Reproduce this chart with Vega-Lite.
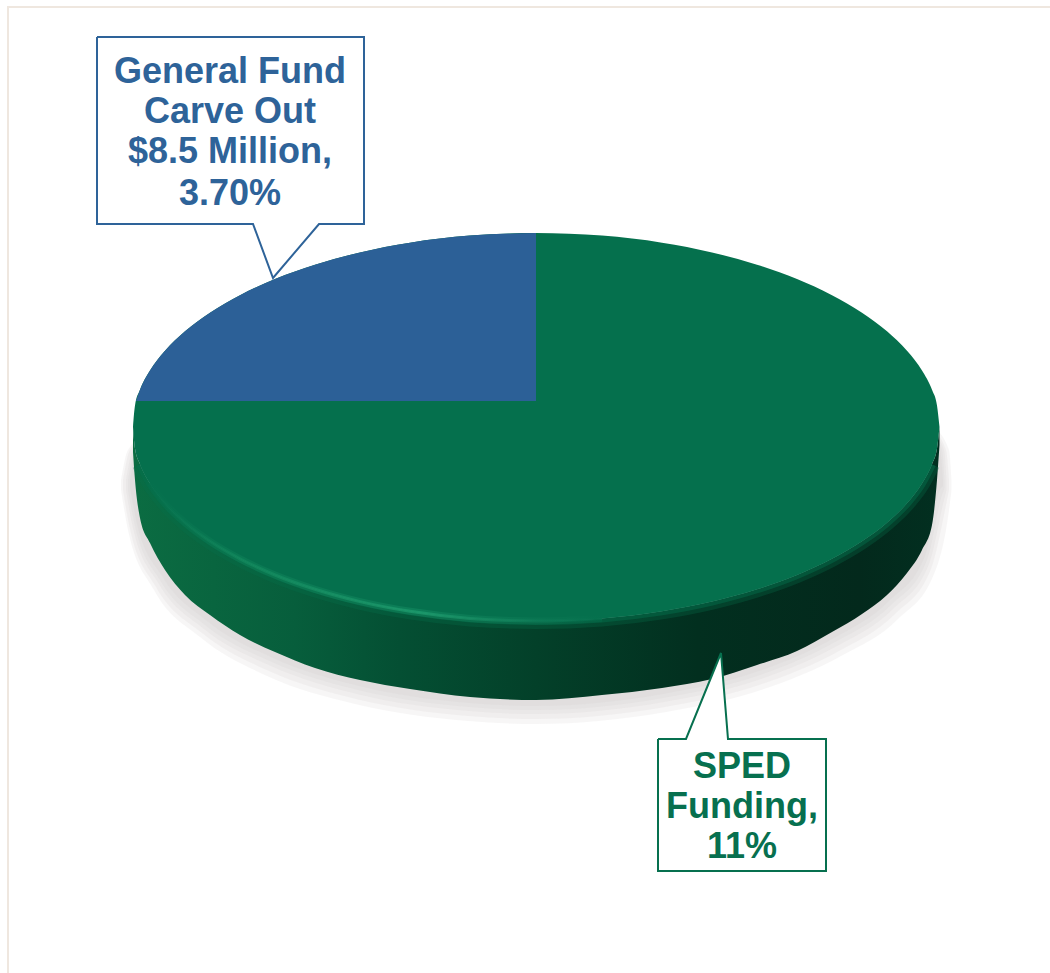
{
"$schema":"https://vega.github.io/schema/vega-lite/v6.json",
"width":1050,"height":973,"padding":0,
"autosize":{"type":"none"},
"background":"#ffffff",
"config":{"view":{"stroke":null}},
"datasets":{
"frame":[{"x":8,"y":973,"o":1},{"x":8,"y":7,"o":2},{"x":1050,"y":7,"o":3}],
"shadow":[
{"s":"A","x":121,"y":480,"y2":490},{"s":"A","x":128,"y":450,"y2":530},{"s":"A","x":154,"y":430,"y2":590},{"s":"A","x":200,"y":430,"y2":637},{"s":"A","x":267,"y":430,"y2":676},{"s":"A","x":355,"y":430,"y2":704},{"s":"A","x":468,"y":430,"y2":721},{"s":"A","x":536,"y":430,"y2":724},{"s":"A","x":666,"y":430,"y2":712},{"s":"A","x":764,"y":430,"y2":689},{"s":"A","x":841,"y":430,"y2":656},{"s":"A","x":898,"y":430,"y2":619},{"s":"A","x":934,"y":430,"y2":574},{"s":"A","x":949,"y":450,"y2":510},{"s":"A","x":951.5,"y":480,"y2":490},
{"s":"D","x":123,"y":480,"y2":490},{"s":"D","x":130,"y":450,"y2":529},{"s":"D","x":156,"y":430,"y2":587},{"s":"D","x":202,"y":430,"y2":633},{"s":"D","x":269,"y":430,"y2":671},{"s":"D","x":356,"y":430,"y2":699},{"s":"D","x":468,"y":430,"y2":716},{"s":"D","x":536,"y":430,"y2":719},{"s":"D","x":665,"y":430,"y2":707},{"s":"D","x":762,"y":430,"y2":684},{"s":"D","x":839,"y":430,"y2":651},{"s":"D","x":895,"y":430,"y2":614},{"s":"D","x":931,"y":430,"y2":569},{"s":"D","x":946,"y":450,"y2":505},{"s":"D","x":949,"y":480,"y2":490},
{"s":"B","x":126,"y":480,"y2":490},{"s":"B","x":133,"y":450,"y2":528},{"s":"B","x":159,"y":430,"y2":584},{"s":"B","x":204,"y":430,"y2":629},{"s":"B","x":271,"y":430,"y2":666},{"s":"B","x":357,"y":430,"y2":694},{"s":"B","x":469,"y":430,"y2":711},{"s":"B","x":536,"y":430,"y2":714},{"s":"B","x":664,"y":430,"y2":702},{"s":"B","x":761,"y":430,"y2":679},{"s":"B","x":837,"y":430,"y2":646},{"s":"B","x":893,"y":430,"y2":609},{"s":"B","x":929,"y":430,"y2":564},{"s":"B","x":944,"y":450,"y2":500},{"s":"B","x":946.5,"y":480,"y2":490},
{"s":"E","x":128,"y":480,"y2":490},{"s":"E","x":135,"y":450,"y2":526},{"s":"E","x":160,"y":430,"y2":580},{"s":"E","x":205,"y":430,"y2":625},{"s":"E","x":272,"y":430,"y2":662},{"s":"E","x":358,"y":430,"y2":690},{"s":"E","x":469,"y":430,"y2":707},{"s":"E","x":536,"y":430,"y2":710},{"s":"E","x":663,"y":430,"y2":698},{"s":"E","x":760,"y":430,"y2":675},{"s":"E","x":835,"y":430,"y2":642},{"s":"E","x":891,"y":430,"y2":605},{"s":"E","x":927,"y":430,"y2":560},{"s":"E","x":942,"y":450,"y2":495},{"s":"E","x":944.5,"y":480,"y2":488},
{"s":"C","x":130,"y":480,"y2":488},{"s":"C","x":137,"y":450,"y2":524},{"s":"C","x":162,"y":430,"y2":576},{"s":"C","x":207,"y":430,"y2":621},{"s":"C","x":273,"y":430,"y2":658},{"s":"C","x":359,"y":430,"y2":686},{"s":"C","x":469,"y":430,"y2":703},{"s":"C","x":536,"y":430,"y2":706},{"s":"C","x":663,"y":430,"y2":694},{"s":"C","x":759,"y":430,"y2":671},{"s":"C","x":834,"y":430,"y2":638},{"s":"C","x":889,"y":430,"y2":601},{"s":"C","x":925,"y":430,"y2":556},{"s":"C","x":940,"y":450,"y2":490},{"s":"C","x":943,"y":480,"y2":486}
],
"pie":[
{"x":133,"top":427,"face":427,"rim":452},
{"x":135,"top":405.4,"face":448.6,"rim":480},
{"x":140,"top":389.8,"face":464.2,"rim":518},
{"x":150,"top":370.5,"face":483.5,"rim":543},
{"x":165,"top":350.7,"face":503.3,"rim":570},
{"x":185,"top":331.3,"face":522.7,"rim":595},
{"x":210,"top":312.7,"face":541.3,"rim":615},
{"x":240,"top":295.2,"face":558.8,"rim":635},
{"x":275,"top":279,"face":575,"rim":652},
{"x":315,"top":264.7,"face":589.3,"rim":668},
{"x":360,"top":252.4,"face":601.6,"rim":680},
{"x":410,"top":242.7,"face":611.3,"rim":689},
{"x":470,"top":235.6,"face":618.4,"rim":697},
{"x":536,"top":233,"face":621,"rim":700},
{"x":602,"top":235.6,"face":618.4,"rim":695},
{"x":662,"top":242.7,"face":611.3,"rim":688},
{"x":712,"top":252.4,"face":601.6,"rim":679},
{"x":757,"top":264.7,"face":589.3,"rim":665},
{"x":797,"top":279,"face":575,"rim":651},
{"x":832,"top":295.2,"face":558.8,"rim":632},
{"x":862,"top":312.7,"face":541.3,"rim":614},
{"x":887,"top":331.3,"face":522.7,"rim":595},
{"x":907,"top":350.7,"face":503.3,"rim":573},
{"x":922,"top":370.5,"face":483.5,"rim":550},
{"x":932,"top":389.8,"face":464.2,"rim":525},
{"x":937,"top":405.4,"face":448.6,"rim":480},
{"x":939.5,"top":427,"face":427,"rim":445}
],
"blue":[
{"x":136,"y":401,"y2":401},{"x":140,"y":389.8,"y2":401},{"x":150,"y":370.5,"y2":401},{"x":165,"y":350.7,"y2":401},{"x":185,"y":331.3,"y2":401},{"x":210,"y":312.7,"y2":401},{"x":240,"y":295.2,"y2":401},{"x":275,"y":279,"y2":401},{"x":315,"y":264.7,"y2":401},{"x":360,"y":252.4,"y2":401},{"x":410,"y":242.7,"y2":401},{"x":470,"y":235.6,"y2":401},{"x":536,"y":233,"y2":401}
],
"pointer":[{"x":686,"y":739,"y2":739},{"x":721,"y":653,"y2":739},{"x":728,"y":739,"y2":739}],
"callouts":[
{"c":"General Fund","x":97,"y":37,"o":1},{"c":"General Fund","x":364,"y":37,"o":2},{"c":"General Fund","x":364,"y":224,"o":3},{"c":"General Fund","x":319,"y":224,"o":4},{"c":"General Fund","x":273,"y":278,"o":5},{"c":"General Fund","x":253,"y":224,"o":6},{"c":"General Fund","x":97,"y":224,"o":7},{"c":"General Fund","x":97,"y":37,"o":8},
{"c":"SPED","x":658,"y":739,"o":1},{"c":"SPED","x":686,"y":739,"o":2},{"c":"SPED","x":721,"y":653,"o":3},{"c":"SPED","x":728,"y":739,"o":4},{"c":"SPED","x":826,"y":739,"o":5},{"c":"SPED","x":826,"y":871,"o":6},{"c":"SPED","x":658,"y":871,"o":7},{"c":"SPED","x":658,"y":739,"o":8}
],
"labels":[
{"c":"General Fund","x":230,"y":83,"t":"General Fund"},
{"c":"General Fund","x":230,"y":123,"t":"Carve Out"},
{"c":"General Fund","x":230,"y":163,"t":"$8.5 Million,"},
{"c":"General Fund","x":230,"y":205,"t":"3.70%"},
{"c":"SPED","x":742,"y":778,"t":"SPED"},
{"c":"SPED","x":742,"y":818,"t":"Funding,"},
{"c":"SPED","x":742,"y":858,"t":"11%"}
]
},
"encoding":{
"x":{"field":"x","type":"quantitative","axis":null,"scale":{"domain":[0,1050],"nice":false,"zero":false}},
"y":{"field":"y","type":"quantitative","axis":null,"stack":null,"scale":{"domain":[973,0],"nice":false,"zero":false}}
},
"layer":[
{"data":{"name":"frame"},"mark":{"type":"line","stroke":"#efe7df","strokeWidth":2},"encoding":{"order":{"field":"o"}}},
{"data":{"name":"shadow"},"mark":{"type":"area","orient":"vertical","interpolate":"monotone","color":"#cfc8c8","opacity":0.17},"encoding":{"detail":{"field":"s"},"y2":{"field":"y2"}}},
{"data":{"name":"pie"},"mark":{"type":"area","orient":"vertical","interpolate":"monotone","color":{"gradient":"linear","x1":0,"x2":1,"y1":0,"y2":0,"stops":[{"offset":0,"color":"#0b6c42"},{"offset":0.2,"color":"#075e3c"},{"offset":0.33,"color":"#044f33"},{"offset":0.5,"color":"#034029"},{"offset":0.7,"color":"#022f1f"},{"offset":0.9,"color":"#03291c"},{"offset":1,"color":"#022f20"}]}},"encoding":{"y":{"field":"face","type":"quantitative"},"y2":{"field":"rim"}}},
{"data":{"name":"pie"},"transform":[{"filter":"datum.x>=140 && datum.x<=932"}],"mark":{"type":"line","interpolate":"monotone","strokeWidth":16,"opacity":0.3,"stroke":"#05704d"},"encoding":{"y":{"field":"face","type":"quantitative"}}},
{"data":{"name":"pie"},"transform":[{"filter":"datum.x>=140 && datum.x<=932"}],"mark":{"type":"line","interpolate":"monotone","strokeWidth":8,"opacity":0.45,"stroke":"#05704d"},"encoding":{"y":{"field":"face","type":"quantitative"}}},
{"data":{"name":"pie"},"mark":{"type":"area","orient":"vertical","interpolate":"monotone","color":"#05704d"},"encoding":{"y":{"field":"top","type":"quantitative"},"y2":{"field":"face"}}},
{"data":{"name":"pie"},"transform":[{"filter":"datum.x>=150 && datum.x<=602"}],"mark":{"type":"line","interpolate":"monotone","strokeWidth":7,"opacity":0.35,"stroke":{"gradient":"linear","x1":0,"x2":1,"y1":0,"y2":0,"stops":[{"offset":0,"color":"#05704d"},{"offset":0.2,"color":"#12895d"},{"offset":0.6,"color":"#1a9a6c"},{"offset":0.85,"color":"#0f7d58"},{"offset":1,"color":"#05704d"}]}},"encoding":{"y":{"field":"face","type":"quantitative"}}},
{"data":{"name":"pie"},"transform":[{"filter":"datum.x>=150 && datum.x<=602"}],"mark":{"type":"line","interpolate":"monotone","strokeWidth":3,"opacity":0.7,"stroke":{"gradient":"linear","x1":0,"x2":1,"y1":0,"y2":0,"stops":[{"offset":0,"color":"#05704d"},{"offset":0.2,"color":"#12895d"},{"offset":0.6,"color":"#1f9f70"},{"offset":0.85,"color":"#0f7d58"},{"offset":1,"color":"#05704d"}]}},"encoding":{"y":{"field":"face","type":"quantitative"}}},
{"data":{"name":"blue"},"mark":{"type":"area","orient":"vertical","interpolate":"monotone","color":"#2c6097"},"encoding":{"y2":{"field":"y2"}}},
{"data":{"name":"pointer"},"mark":{"type":"area","orient":"vertical","color":"#ffffff"},"encoding":{"y2":{"field":"y2"}}},
{"data":{"name":"callouts"},"mark":{"type":"line","strokeWidth":2,"strokeJoin":"miter"},"encoding":{"order":{"field":"o"},"detail":{"field":"c"},"color":{"field":"c","type":"nominal","legend":null,"scale":{"domain":["General Fund","SPED"],"range":["#2e6399","#07704f"]}}}},
{"data":{"name":"labels"},"mark":{"type":"text","font":"Liberation Sans","fontWeight":"bold","fontSize":36,"align":"center","baseline":"alphabetic"},"encoding":{"text":{"field":"t"},"color":{"field":"c","type":"nominal","legend":null,"scale":{"domain":["General Fund","SPED"],"range":["#2e6399","#07704f"]}}}}
]
}
